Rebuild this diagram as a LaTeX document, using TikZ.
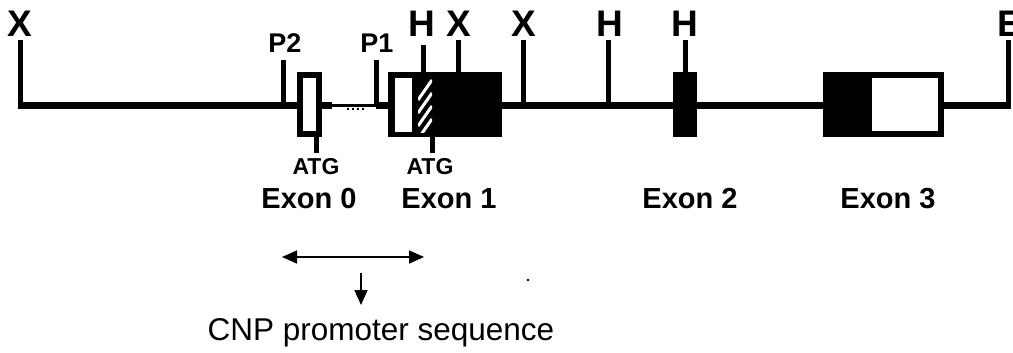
\documentclass[tikz,border=0pt]{standalone}
\usepackage{fontspec}
\setmainfont{Liberation Sans}
\usetikzlibrary{arrows.meta}

\begin{document}
\begin{tikzpicture}[x=1pt, y=-1pt,
        bone/.style={line width=7pt, line cap=butt},
        weakline/.style={line width=3pt},
        sitetick/.style={line width=5pt, line cap=butt},
        site/.style={font=\bfseries\fontsize{37}{37}\selectfont, inner sep=0pt, anchor=south},
        prom/.style={font=\bfseries\fontsize{27}{27}\selectfont, inner sep=0pt, anchor=south},
        atg/.style={font=\bfseries\fontsize{23}{23}\selectfont, inner sep=0pt, anchor=north},
        exon/.style={font=\bfseries\fontsize{29}{29}\selectfont, inner sep=0pt, anchor=north},
        exbox/.style={draw, line width=6pt, inner sep=0pt, minimum height=59pt},
        hatch/.style={white, line width=3pt},
        span/.style={line width=1.7pt, {Triangle[length=15pt,width=13pt]}-{Triangle[length=15pt,width=13pt]}},
        down/.style={line width=1.7pt, -{Triangle[length=15pt,width=13pt]}},
        note/.style={font=\fontsize{31.5}{31.5}\selectfont, inner sep=0pt, anchor=north}]
                \clip (0,0) rectangle (1013,353);
                \coordinate (X1) at (20,106);
                \coordinate (P2) at (283,106);
                \coordinate (D1) at (332,106);
                \coordinate (P1) at (376,106);
                \coordinate (H1) at (423,72);
                \coordinate (X2) at (458,72);
                \coordinate (X3) at (523,106);
                \coordinate (H2) at (608,106);
                \coordinate (H3) at (685,72);
                \coordinate (E1) at (1008,106);
                \coordinate (A0) at (316,137);
                \coordinate (A1) at (432,137);
                \node[exbox, minimum width=19pt] (ex0) at (309.5,104.5) {};
                \node[exbox, minimum width=108pt, fill=black] (ex1) at (445,104.5) {};
                \node[fill=black, inner sep=0pt, outer sep=0pt, minimum width=24pt, minimum height=65pt] (ex2) at (685,104.5) {};
                \node[exbox, minimum width=115pt] (ex3) at (883.5,104.5) {};
                \fill[white] (395,78) rectangle (412,132);
                \begin{scope}
                    \clip (418,78) rectangle (432,132);
                    \foreach \y in {90,103,116,129}
                        \draw[hatch] (418,\y+10) -- (432,\y-10);
                \end{scope}
                \fill (823,72) rectangle (872,137);
                \draw[bone] ([xshift=-2.5pt]X1) -- (X1 -| ex0.west);
                \draw[bone] (X1 -| ex0.east) -- (D1);
                \draw[weakline] (D1) -- (P1);
                \draw[line width=2pt, dash pattern=on 2pt off 3pt] (347,109) -- (364,109);
                \draw[bone] (P1) -- (X1 -| ex1.west);
                \draw[bone] (X1 -| ex1.east) -- (X1 -| ex2.west);
                \draw[bone] (X1 -| ex2.east) -- (X1 -| ex3.west);
                \draw[bone] (X1 -| ex3.east) -- ([xshift=2.5pt]E1);
                \node[site] (lX1) at (20,37) {X};
                \node[prom] (lP2) at (285,53) {P2};
                \node[prom] (lP1) at (377,53) {P1};
                \node[site] (lH1) at (422,37) {H};
                \node[site] (lX2) at (459,37) {X};
                \node[site] (lX3) at (524,37) {X};
                \node[site] (lH2) at (610,37) {H};
                \node[site] (lH3) at (685,37) {H};
                \node[site] (lE1) at (1010,37) {E};
                \draw[sitetick, shorten >=3pt] (X1) -- (X1 |- lX1.south);
                \draw[sitetick, shorten >=7pt] (P2) -- (P2 |- lP2.south);
                \draw[sitetick, shorten >=7pt] (P1) -- (P1 |- lP1.south);
                \draw[sitetick, shorten >=8pt] (H1) -- (H1 |- lH1.south);
                \draw[sitetick, shorten >=3pt] (X2) -- (X2 |- lX2.south);
                \draw[sitetick, shorten >=3pt] (X3) -- (X3 |- lX3.south);
                \draw[sitetick, shorten >=3pt] (H2) -- (H2 |- lH2.south);
                \draw[sitetick, shorten >=3pt] (H3) -- (H3 |- lH3.south);
                \draw[sitetick, shorten >=3pt] (E1) -- (E1 |- lE1.south);
                \node[atg] (lA0) at (316,158) {ATG};
                \node[atg] (lA1) at (430,158) {ATG};
                \draw[sitetick, shorten >=5pt] (A0) -- (A0 |- lA0.north);
                \draw[sitetick, shorten >=5pt] (A1) -- (A1 |- lA1.north);
                \node[exon] (n0) at (309,188) {Exon 0};
                \node[exon] (n1) at (449,188) {Exon 1};
                \node[exon] (n2) at (690,188) {Exon 2};
                \node[exon] (n3) at (888,188) {Exon 3};
                \coordinate (L) at (282,257);
                \coordinate (R) at (424,257);
                \coordinate (D) at (361,273);
                \node[note] (cnp) at (381,318) {CNP promoter sequence};
                \draw[span] (L) -- (R);
                \draw[down, shorten >=13pt] (D) -- (D |- cnp.north);
                \fill (528,280) circle (1.3pt);
            \end{tikzpicture}
\end{document}
